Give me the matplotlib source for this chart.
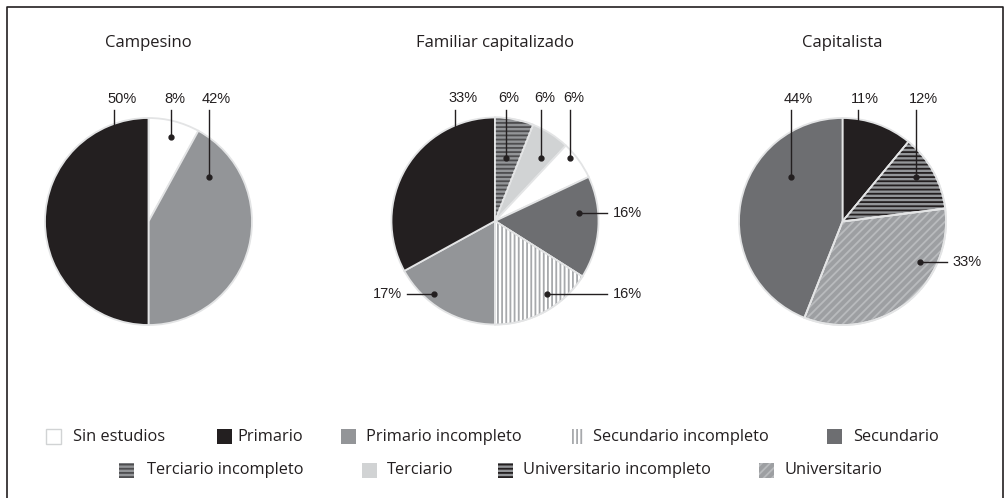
import matplotlib
matplotlib.use('Agg')
import matplotlib.pyplot as plt
import matplotlib.patches as mpatches

plt.rcParams['hatch.linewidth'] = 1.3

# datos
titles = ['Campesino', 'Familiar capitalizado', 'Capitalista']

campesino_cats = ['Sin estudios', 'Primario incompleto', 'Primario']
campesino_vals = [8, 42, 50]

familiar_cats = ['Terciario incompleto', 'Terciario', 'Sin estudios', 'Secundario',
                 'Secundario incompleto', 'Primario incompleto', 'Primario']
familiar_vals = [6, 6, 6, 16, 16, 17, 33]

capitalista_cats = ['Primario', 'Universitario incompleto', 'Universitario', 'Secundario']
capitalista_vals = [11, 12, 33, 44]

legend_row1 = ['Sin estudios', 'Primario', 'Primario incompleto', 'Secundario incompleto', 'Secundario']
legend_row2 = ['Terciario incompleto', 'Terciario', 'Universitario incompleto', 'Universitario']

# estilos: (relleno, trama, color de trama)
styles = {
    'Sin estudios': ('#ffffff', None, None),
    'Primario': ('#231f20', None, None),
    'Primario incompleto': ('#939598', None, None),
    'Secundario incompleto': ('#ffffff', '||||', '#a7a9ac'),
    'Secundario': ('#6d6e71', None, None),
    'Terciario incompleto': ('#939598', '----', '#4d4d4f'),
    'Terciario': ('#d1d3d4', None, None),
    'Universitario incompleto': ('#939598', '----', '#231f20'),
    'Universitario': ('#9d9fa2', '////', '#b9bbbd'),
}

W, H = 1006, 498
R = 103.5  # radio en pixeles
centers = [(148.5, 221.5), (495, 221), (842.5, 221.5)]

# posiciones de etiquetas (unidades del radio): 'top' -> (x linea, y punto, punto?)
#                                               'side' -> (x punto, y punto, x fin linea)
label_layout = [
    [('top', 0.217, 0.816, True), ('top', 0.585, 0.43, True), ('top', -0.333, 0.94, False)],
    [('top', 0.103, 0.612, True), ('top', 0.444, 0.612, True), ('top', 0.725, 0.612, True),
     ('side', 0.812, 0.074, 1.079), ('side', 0.50, -0.708, 1.079),
     ('side', -0.586, -0.708, -0.853), ('top', -0.386, 0.92, False)],
    [('top', 0.153, 0.97, False), ('top', 0.71, 0.433, True),
     ('side', 0.749, -0.388, 1.007), ('top', -0.498, 0.433, True)],
]

fig = plt.figure(figsize=(W / 100, H / 100), dpi=100)

text_col = '#231f20'
lab_font = 'Liberation Sans'
main_font = 'Open Sans'

all_cats = [campesino_cats, familiar_cats, capitalista_cats]
all_vals = [campesino_vals, familiar_vals, capitalista_vals]

half = 1.5 * R
for i in range(3):
    cx, cy = centers[i]
    ax = fig.add_axes([(cx - half) / W, (H - cy - half) / H, 2 * half / W, 2 * half / H])
    cats, vals = all_cats[i], all_vals[i]
    wedges, _ = ax.pie(vals, startangle=90, counterclock=False,
                       colors=[styles[c][0] for c in cats],
                       wedgeprops=dict(edgecolor='#e3e4e5', linewidth=1.3))
    for w, c in zip(wedges, cats):
        fc, h, hc = styles[c]
        if h:
            ov = mpatches.Wedge(w.center, w.r, w.theta1, w.theta2, facecolor='none',
                                edgecolor=hc, hatch=h, lw=0, zorder=w.get_zorder() + 0.1)
            ax.add_patch(ov)
            ed = mpatches.Wedge(w.center, w.r, w.theta1, w.theta2, facecolor='none',
                                edgecolor='#e3e4e5', lw=1.3, zorder=w.get_zorder() + 0.2)
            ax.add_patch(ed)
    ax.set_xlim(-1.5, 1.5)
    ax.set_ylim(-1.5, 1.5)
    ax.axis('off')

    # etiquetas con lineas guia
    for v, lay in zip(vals, label_layout[i]):
        txt = f'{v}%'
        if lay[0] == 'top':
            lx, py, dot = lay[1], lay[2], lay[3]
            ax.plot([lx, lx], [1.077, py], color='#231f20', lw=1.0, zorder=5, clip_on=False)
            if dot:
                ax.plot(lx, py, 'o', color='#231f20', ms=3.5, zorder=6)
            ax.text(lx - 7 / R, 1.12, txt, ha='left', va='bottom', fontsize=10.5,
                    family=lab_font, color=text_col)
        else:
            px, py, ex = lay[1], lay[2], lay[3]
            ax.plot([px, ex], [py, py], color='#231f20', lw=1.0, zorder=5, clip_on=False)
            ax.plot(px, py, 'o', color='#231f20', ms=3.5, zorder=6)
            if ex > px:
                ax.text(ex + 6 / R, py, txt, ha='left', va='center', fontsize=10.5,
                        family=lab_font, color=text_col)
            else:
                ax.text(ex - 5 / R, py, txt, ha='right', va='center', fontsize=10.5,
                        family=lab_font, color=text_col)

    fig.text(cx / W, 1 - 43 / H, titles[i], ha='center', va='center', fontsize=12,
             family=main_font, color=text_col)

# leyenda y marco en pixeles
lax = fig.add_axes([0, 0, 1, 1], zorder=-1)
lax.set_xlim(0, W)
lax.set_ylim(H, 0)
lax.axis('off')

lax.plot([7, 7, 1003, 1003], [H + 2, 7, 7, H + 2], color='#231f20', lw=1.2, clip_on=False)

row1_x = [(46, 73), (217, 237), (341, 366), (572, 593), (827, 853)]
row2_x = [(119, 147), (362, 387), (498, 523), (759, 785)]
sq = 15
for names, xs, yc in [(legend_row1, row1_x, 436.5), (legend_row2, row2_x, 470)]:
    for name, (sx, tx) in zip(names, xs):
        fc, h, hc = styles[name]
        wdt = 11 if name == 'Secundario incompleto' else sq
        if name == 'Sin estudios':
            lax.add_patch(mpatches.Rectangle((sx, yc - sq / 2), wdt, sq, facecolor='white',
                                             edgecolor='#d1d3d4', lw=1.0))
        else:
            lax.add_patch(mpatches.Rectangle((sx, yc - sq / 2), wdt, sq, facecolor=fc,
                                             edgecolor='none', lw=0))
        if h:
            lax.add_patch(mpatches.Rectangle((sx, yc - sq / 2), wdt, sq, facecolor='none',
                                             edgecolor=hc, hatch=h, lw=0))
        lax.text(tx, yc, name, ha='left', va='center', fontsize=11.8, family=main_font,
                 color=text_col)

fig.savefig('out.png', dpi=100)
